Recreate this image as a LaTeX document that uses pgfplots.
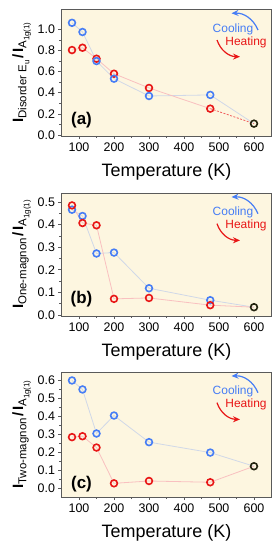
\documentclass[border=0pt]{standalone}
\usepackage{fontspec}
\setmainfont{Liberation Sans}
\usepackage{pgfplots}
\pgfplotsset{compat=1.18}
\usetikzlibrary{arrows.meta}
\definecolor{bgy}{RGB}{253,246,224}
\definecolor{cblue}{RGB}{70,125,245}
\definecolor{cred}{RGB}{232,22,22}
\definecolor{cblk}{RGB}{35,35,15}
\definecolor{lblue}{RGB}{208,216,232}
\definecolor{lred}{RGB}{249,192,192}
\definecolor{dred}{RGB}{240,95,95}
\definecolor{framec}{RGB}{90,90,90}

\newcommand{\sub}[1]{\raisebox{-0.35em}{\fontsize{11.5}{11.5}\selectfont #1}}
\newcommand{\ssub}[1]{\raisebox{-0.25em}{\fontsize{8}{8}\selectfont #1}}
\newcommand{\bigI}{{\fontsize{15}{15}\selectfont\bfseries I}}
\newcommand{\slsh}{{\fontsize{15}{15}\selectfont\bfseries /}}

\pgfplotsset{panel/.style={
  scale only axis, width=210bp, xmin=50, xmax=650,
  xtick={100,200,...,600}, minor x tick num=1,
  minor y tick num=1,
  tick align=outside, tick pos=left,
  major tick length=3bp, minor tick length=2bp,
  axis line style={framec, line width=0.6bp},
  every tick/.style={framec, line width=0.6bp},
  axis background/.style={fill=bgy},
  tick label style={font=\fontsize{12.5}{13}\selectfont},
  /pgf/number format/assume math mode=true,
  yticklabel style={/pgf/number format/.cd, fixed, fixed zerofill, precision=1},
  xlabel={Temperature (K)},
  xlabel style={font=\fontsize{18}{18}\selectfont, at={(axis description cs:0.5,0)}, anchor=base, yshift=-40bp},
  ylabel style={at={(axis description cs:-0.19,0.5)}, anchor=center},
  anchor=north west,
  clip=false,
}}
\pgfplotsset{
  lb/.style={lblue, line width=0.8bp, no marks},
  lr/.style={lred, line width=0.8bp, no marks},
  mr/.style={only marks, mark=o, mark size=3.4bp, cred, mark options={line width=1.6bp}},
  mb/.style={only marks, mark=o, mark size=3.4bp, cblue, mark options={line width=1.6bp}},
  mk/.style={only marks, mark=o, mark size=3.4bp, cblk, mark options={line width=1.6bp}},
}
\newcommand{\annot}[1]{%
  \node[cblue, font=\fontsize{12}{12}\selectfont] at ([shift={(171.5bp,-19.7bp)}]#1.north west) {Cooling};
  \node[cred, font=\fontsize{12}{12}\selectfont] at ([shift={(184.5bp,-32.7bp)}]#1.north west) {Heating};
  \draw[cblue, line width=1.2bp, -{Stealth[length=7bp,width=6bp]}] ([shift={(196.5bp,-20.7bp)}]#1.north west) to[bend right=35] ([shift={(170bp,-4bp)}]#1.north west);
  \draw[cred, line width=1.2bp, -{Stealth[length=7bp,width=6bp]}] ([shift={(155.5bp,-30.7bp)}]#1.north west) to[bend right=35] ([shift={(178.5bp,-47.4bp)}]#1.north west);
}

\begin{document}
\begin{tikzpicture}
\path[use as bounding box] (-61.5bp,-540.7bp) rectangle (215.5bp,9.3bp);

% ---------- (a)
\begin{axis}[panel, name=a, at={(0,0)}, height=126.7bp,
  ymin=-0.01, ymax=1.19, ytick={0,0.2,0.4,0.6,0.8,1.0},
  ylabel={\bigI\sub{Disorder E\ssub{u}}\,\slsh\,\bigI\sub{A\ssub{1g(1)}}}]
\addplot[lb] coordinates {(80,1.062)(110,0.975)(150,0.70)(200,0.533)(300,0.369)(475,0.379)(600,0.107)};
\addplot[lr] coordinates {(80,0.804)(110,0.826)(150,0.722)(200,0.58)(300,0.445)(475,0.249)};
\addplot[dred, line width=0.8bp, dash pattern=on 2bp off 1.5bp, no marks] coordinates {(475,0.249)(600,0.107)};
\addplot[mr] coordinates {(80,0.804)(110,0.826)(150,0.722)(200,0.58)(300,0.445)(475,0.249)};
\addplot[mb] coordinates {(80,1.062)(110,0.975)(150,0.70)(200,0.533)(300,0.369)(475,0.379)};
\addplot[mk] coordinates {(600,0.107)};
\end{axis}
\annot{a}
\node[font=\bfseries\fontsize{17}{17}\selectfont] at ([shift={(20bp,16bp)}]a.south west) {(a)};

% ---------- (b)
\begin{axis}[panel, name=b, at={(0,-183.7bp)}, height=123bp,
  ymin=-0.005, ymax=0.54, ytick={0,0.1,0.2,0.3,0.4,0.5},
  ylabel={\bigI\sub{One-magnon}\,\slsh\,\bigI\sub{A\ssub{1g(1)}}}]
\addplot[lb] coordinates {(80,0.466)(110,0.438)(150,0.272)(200,0.276)(300,0.118)(475,0.065)(600,0.034)};
\addplot[lr] coordinates {(80,0.485)(110,0.407)(150,0.397)(200,0.071)(300,0.075)(475,0.043)(600,0.034)};
\addplot[mb] coordinates {(80,0.466)(110,0.438)(150,0.272)(200,0.276)(300,0.118)(475,0.065)};
\addplot[mr] coordinates {(80,0.485)(110,0.407)(150,0.397)(200,0.071)(300,0.075)(475,0.043)};
\addplot[mk] coordinates {(600,0.034)};
\end{axis}
\annot{b}
\node[font=\bfseries\fontsize{17}{17}\selectfont] at ([shift={(20bp,17bp)}]b.south west) {(b)};

% ---------- (c)
\begin{axis}[panel, name=c, at={(0,-362.7bp)}, height=125bp,
  ymin=-0.05, ymax=0.645, ytick={0,0.1,0.2,0.3,0.4,0.5,0.6},
  ylabel={\bigI\sub{Two-magnon}\,\slsh\,\bigI\sub{A\ssub{1g(1)}}}]
\addplot[lb] coordinates {(80,0.598)(110,0.548)(150,0.303)(200,0.403)(300,0.255)(475,0.197)(600,0.121)};
\addplot[lr] coordinates {(80,0.283)(110,0.288)(150,0.225)(200,0.026)(300,0.039)(475,0.032)(600,0.121)};
\addplot[mb] coordinates {(80,0.598)(110,0.548)(150,0.303)(200,0.403)(300,0.255)(475,0.197)};
\addplot[mr] coordinates {(80,0.283)(110,0.288)(150,0.225)(200,0.026)(300,0.039)(475,0.032)};
\addplot[mk] coordinates {(600,0.121)};
\end{axis}
\annot{c}
\node[font=\bfseries\fontsize{17}{17}\selectfont] at ([shift={(20bp,13bp)}]c.south west) {(c)};
\end{tikzpicture}
\end{document}
